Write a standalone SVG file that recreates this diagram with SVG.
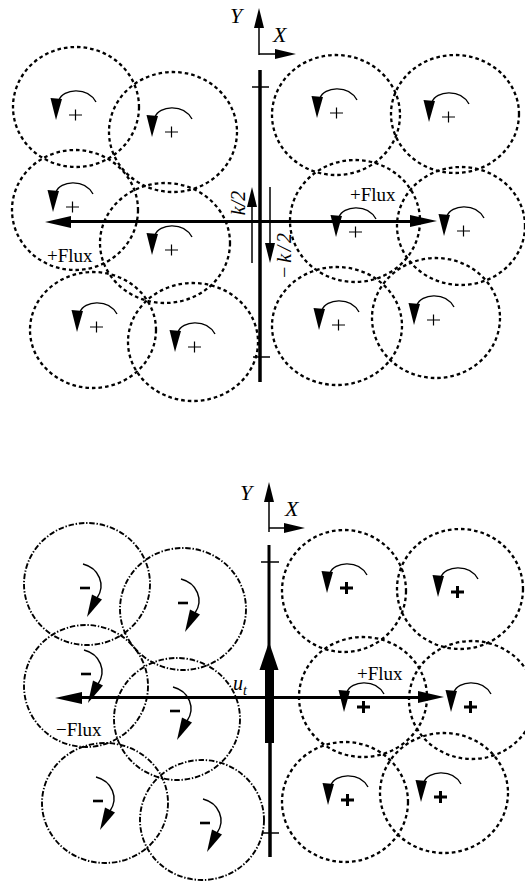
<svg xmlns="http://www.w3.org/2000/svg" xmlns:xlink="http://www.w3.org/1999/xlink" width="525" height="884" viewBox="0 0 525 884">
<style>
.dot{fill:none;stroke:#000;stroke-width:2.3;stroke-dasharray:3.6 3}
.dd{fill:none;stroke:#000;stroke-width:1.9;stroke-dasharray:5.5 1.8 1.4 1.8}
.ln{fill:none;stroke:#000}
.lbl{font-family:"Liberation Serif","Times New Roman",serif;font-size:19px;fill:#000}
.it{font-family:"Liberation Serif","Times New Roman",serif;font-style:italic;fill:#000}
</style>
<defs>
<g id="pa">
<path d="M3,-20 C7,-31 31,-34 40,-18" fill="none" stroke="#000" stroke-width="1.4"/>
<path d="M-5.5,-22 L6,-21 L0,0 Z" fill="#000"/>
</g>
<g id="pt"><path d="M13,-5 H26 M19.5,-10.5 V0.5" stroke="#000" stroke-width="1.2" fill="none"/></g>
<g id="pb"><path d="M13,-5 H26 M19.5,-11 V1" stroke="#000" stroke-width="3" fill="none"/></g>
<g id="ma">
<path d="M-4,-53 C12,-49 19,-32 10,-19" fill="none" stroke="#000" stroke-width="1.4"/>
<path d="M15,-17.5 L5,-22.5 L0,0 Z" fill="#000"/>
<path d="M-7,-29 H3" stroke="#000" stroke-width="2.6"/>
</g>
</defs>
<rect width="525" height="884" fill="#fff"/>

<g id="connectors">
<path class="ln" stroke-width="1.5" d="M259,55 V26 M259,54 H277"/>
<path d="M254,28 L264,28 L259,8 Z M275,49 L296,54 L275,59 Z" fill="#000"/>
<path class="ln" stroke-width="3.5" d="M260,70 V382"/>
<path class="ln" stroke-width="1.5" d="M252,87 H269 M253,357 H270"/>
<path class="ln" stroke-width="3" d="M66,221.5 H414"/>
<path d="M45,222 L71,216 L71,228 Z M437,221 L410,215 L410,227 Z" fill="#000"/>
<path class="ln" stroke-width="1.5" d="M252,263 V205 M270,187 V245"/>
<path d="M247,207 L257,207 L252,187 Z M265,243 L275,243 L270,263 Z" fill="#000"/>

<path class="ln" stroke-width="1.5" d="M269,532 V500 M269,528 H286"/>
<path d="M264,502 L274,502 L269,482 Z M284,523 L305,528 L284,533 Z" fill="#000"/>
<path class="ln" stroke-width="3" d="M269,545 V660"/>
<path d="M259.5,670 L278.5,670 L269,642 Z" fill="#000"/>
<path class="ln" stroke-width="9" d="M269.5,668 V743"/>
<path class="ln" stroke-width="3.5" d="M270,740 V857"/>
<path class="ln" stroke-width="1.5" d="M261,562 H279 M262,833 H279"/>
<path class="ln" stroke-width="3" d="M76,697.5 H422"/>
<path d="M55,698 L82,692 L82,704 Z M444,697 L418,691 L418,703 Z" fill="#000"/>
</g>

<g id="labels">
<text class="it" x="230" y="23" font-size="22">Y</text>
<text class="it" x="273" y="42" font-size="22">X</text>
<text class="it" font-size="20" text-anchor="middle" transform="translate(245,203) rotate(-90)">k/2</text>
<text class="it" font-size="20" text-anchor="middle" textLength="46" lengthAdjust="spacing" transform="translate(291,256) rotate(-90)">−k/2</text>
<text class="lbl" x="350" y="201">+Flux</text>
<text class="lbl" x="47" y="262">+Flux</text>
<text class="it" x="240" y="500" font-size="22">Y</text>
<text class="it" x="285" y="516" font-size="22">X</text>
<text class="it" x="233" y="690" font-size="20">u<tspan font-size="14" dy="5">t</tspan></text>
<text class="lbl" x="357" y="680">+Flux</text>
<text class="lbl" x="56" y="736">−Flux</text>
</g>

<g id="n-t1"><ellipse class="dot" cx="76" cy="107" rx="63" ry="60"/><use xlink:href="#pa" x="56" y="120"/><use xlink:href="#pt" x="56" y="120"/></g>
<g id="n-t2"><ellipse class="dot" cx="173" cy="132" rx="64" ry="60"/><use xlink:href="#pa" x="152" y="137"/><use xlink:href="#pt" x="152" y="137"/></g>
<g id="n-t3"><ellipse class="dot" cx="336" cy="115" rx="64" ry="60"/><use xlink:href="#pa" x="317" y="118"/><use xlink:href="#pt" x="317" y="118"/></g>
<g id="n-t4"><ellipse class="dot" cx="455" cy="114" rx="64" ry="59"/><use xlink:href="#pa" x="429" y="122"/><use xlink:href="#pt" x="429" y="122"/></g>
<g id="n-t5"><ellipse class="dot" cx="75" cy="210" rx="63" ry="60"/><use xlink:href="#pa" x="53" y="212"/><use xlink:href="#pt" x="53" y="212"/></g>
<g id="n-t6"><ellipse class="dot" cx="165" cy="243" rx="65" ry="60"/><use xlink:href="#pa" x="152" y="255"/><use xlink:href="#pt" x="152" y="255"/></g>
<g id="n-t7"><ellipse class="dot" cx="93" cy="330" rx="63" ry="58"/><use xlink:href="#pa" x="77" y="332"/><use xlink:href="#pt" x="77" y="332"/></g>
<g id="n-t8"><ellipse class="dot" cx="193" cy="342" rx="65" ry="59"/><use xlink:href="#pa" x="175" y="352"/><use xlink:href="#pt" x="175" y="352"/></g>
<g id="n-t9"><ellipse class="dot" cx="355" cy="221" rx="65" ry="61"/><use xlink:href="#pa" x="336" y="237"/><use xlink:href="#pt" x="336" y="237"/></g>
<g id="n-t10"><ellipse class="dot" cx="461" cy="226" rx="64" ry="59"/><use xlink:href="#pa" x="444" y="236"/><use xlink:href="#pt" x="444" y="236"/></g>
<g id="n-t11"><ellipse class="dot" cx="337" cy="326" rx="65" ry="59"/><use xlink:href="#pa" x="319" y="330"/><use xlink:href="#pt" x="319" y="330"/></g>
<g id="n-t12"><ellipse class="dot" cx="436" cy="318" rx="64" ry="60"/><use xlink:href="#pa" x="414" y="325"/><use xlink:href="#pt" x="414" y="325"/></g>

<g id="n-b1"><ellipse class="dot" cx="344" cy="591" rx="62" ry="61"/><use xlink:href="#pa" x="327" y="593"/><use xlink:href="#pb" x="327" y="593"/></g>
<g id="n-b2"><ellipse class="dot" cx="460" cy="589" rx="63" ry="60"/><use xlink:href="#pa" x="438" y="597"/><use xlink:href="#pb" x="438" y="597"/></g>
<g id="n-b3"><ellipse class="dot" cx="363" cy="697" rx="64" ry="60"/><use xlink:href="#pa" x="344" y="712"/><use xlink:href="#pb" x="344" y="712"/></g>
<g id="n-b4"><ellipse class="dot" cx="472" cy="700" rx="63" ry="59"/><use xlink:href="#pa" x="451" y="712"/><use xlink:href="#pb" x="451" y="712"/></g>
<g id="n-b5"><ellipse class="dot" cx="345" cy="802" rx="63" ry="60"/><use xlink:href="#pa" x="328" y="805"/><use xlink:href="#pb" x="328" y="805"/></g>
<g id="n-b6"><ellipse class="dot" cx="444" cy="793" rx="64" ry="60"/><use xlink:href="#pa" x="421" y="802"/><use xlink:href="#pb" x="421" y="802"/></g>

<g id="n-m1"><ellipse class="dd" cx="87" cy="584" rx="63" ry="61"/><use xlink:href="#ma" x="87" y="617"/></g>
<g id="n-m2"><ellipse class="dd" cx="183" cy="609" rx="63" ry="61"/><use xlink:href="#ma" x="185" y="632"/></g>
<g id="n-m3"><ellipse class="dd" cx="86" cy="686" rx="62" ry="61"/><use xlink:href="#ma" x="88" y="703"/></g>
<g id="n-m4"><ellipse class="dd" cx="177" cy="719" rx="63" ry="61"/><use xlink:href="#ma" x="177" y="740"/></g>
<g id="n-m5"><ellipse class="dd" cx="105" cy="803" rx="63" ry="60"/><use xlink:href="#ma" x="100" y="830"/></g>
<g id="n-m6"><ellipse class="dd" cx="202" cy="820" rx="62" ry="60"/><use xlink:href="#ma" x="207" y="852"/></g>
</svg>
